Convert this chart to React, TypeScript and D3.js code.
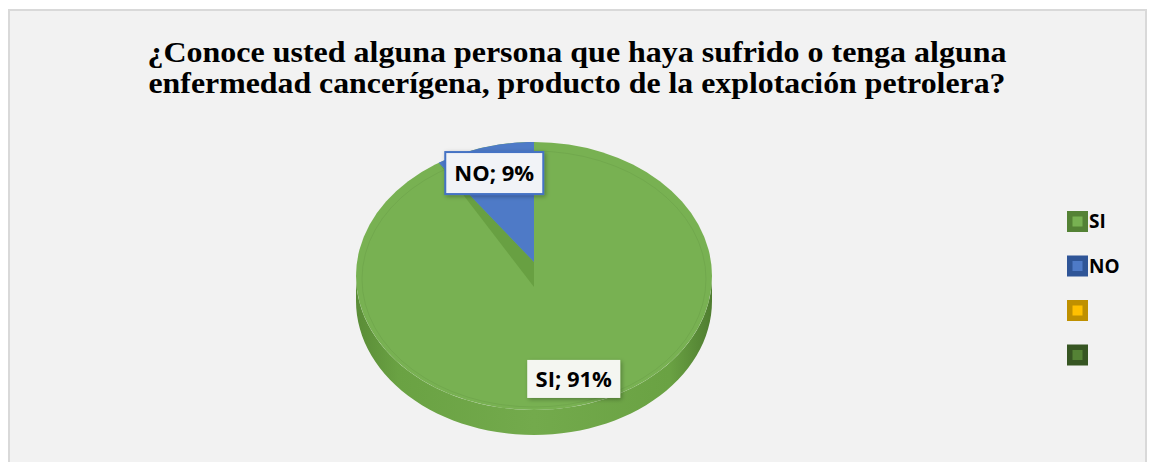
import React from 'react';
import * as d3 from 'd3';

const categories = ['SI', 'NO'];
const values = [91, 9];
const legendLabels = ['SI', 'NO', '', ''];
const legendColors = [
  { outer: '#548235', inner: '#78b152' },
  { outer: '#2f5597', inner: '#4e7ac7' },
  { outer: '#bf9000', inner: '#ffc000' },
  { outer: '#375623', inner: '#548235' },
];
const titleLines = [
  '¿Conoce usted alguna persona que haya sufrido o tenga alguna',
  'enfermedad cancerígena, producto de la explotación petrolera?',
];

const W = 1149;
const H = 462;

export default function App() {
  const cx = 534;
  const cy = 276;
  const rx = 178;
  const ry = 134;
  const depth = 25;
  const lift = 14; // NO slice top-face apex is raised
  const drop = 11; // visible wall of SI slice

  const pie = d3.pie<number>().sort(null).startAngle(0).endAngle(2 * Math.PI);
  const arcs = pie(values);

  const pt = (a: number, dy = 0): [number, number] => [cx + rx * Math.sin(a), cy - ry * Math.cos(a) + dy];

  // side wall of front half
  const side = d3.path();
  const n = 60;
  for (let i = 0; i <= n; i++) {
    const a = Math.PI / 2 + (Math.PI * i) / n;
    const [x, y] = pt(a);
    if (i === 0) side.moveTo(x, y);
    else side.lineTo(x, y);
  }
  for (let i = n; i >= 0; i--) {
    const a = Math.PI / 2 + (Math.PI * i) / n;
    const [x, y] = pt(a, depth);
    side.lineTo(x, y);
  }
  side.closePath();

  const wedgePath = (a0: number, a1: number, apexDy: number) => {
    const p = d3.path();
    p.moveTo(cx, cy + apexDy);
    const steps = 30;
    for (let i = 0; i <= steps; i++) {
      const a = a0 + ((a1 - a0) * i) / steps;
      const [x, y] = pt(a);
      p.lineTo(x, y);
    }
    p.closePath();
    return p.toString();
  };

  const no = arcs[1];
  const noStart = pt(no.startAngle);

  const labelPos = (d: d3.PieArcDatum<number>) => {
    const mid = (d.startAngle + d.endAngle) / 2;
    return [cx + rx * 0.8 * Math.sin(mid), cy - ry * 0.8 * Math.cos(mid)];
  };
  const labelSizes = [
    { w: 93, h: 38 },
    { w: 98, h: 42 },
  ];

  return (
    <div style={{ position: 'absolute', left: 0, top: 0 }}>
      <svg width={W} height={H} style={{ display: 'block' }}>
        <defs>
          <linearGradient id="sideGrad" x1="0" x2="1" y1="0" y2="0">
            <stop offset="0" stopColor="#5a8c37" />
            <stop offset="0.12" stopColor="#6aa243" />
            <stop offset="0.5" stopColor="#73aa4c" />
            <stop offset="0.88" stopColor="#6aa243" />
            <stop offset="1" stopColor="#4f7d30" />
          </linearGradient>
          <filter id="shadow" x="-20%" y="-30%" width="150%" height="170%">
            <feDropShadow dx="1.5" dy="1.5" stdDeviation="2" floodColor="#000" floodOpacity="0.3" />
          </filter>
        </defs>
        <rect x={0} y={0} width={W} height={H} fill="#ffffff" />
        <rect x={9} y={10} width={1137} height={470} fill="#f2f2f2" stroke="#d9d9d9" strokeWidth={2} />

        {titleLines.map((t, i) => (
          <text
            key={i}
            x={577}
            y={62 + i * 31}
            fontFamily="'Liberation Serif', 'Times New Roman', serif"
            fontWeight="bold"
            fontSize={29}
            textAnchor="middle"
            textLength={i === 0 ? 859 : 857}
            lengthAdjust="spacingAndGlyphs"
            fill="#000"
          >
            {t}
          </text>
        ))}

        {/* pie */}
        <path d={side.toString()} fill="url(#sideGrad)" />
        <ellipse cx={cx} cy={cy} rx={rx} ry={ry} fill="#78b152" />
        <ellipse cx={cx} cy={cy + 3} rx={rx - 6} ry={ry - 6} fill="none" stroke="#6a9f47" strokeWidth={0.8} opacity={0.6} />
        <path
          d={`M${cx},${cy + drop}L${noStart[0]},${noStart[1]}L${cx},${cy - lift}Z`}
          fill="#68a042"
        />
        <path d={wedgePath(no.startAngle, no.endAngle, -lift)} fill="#4e7ac7" />

        {/* data labels */}
        {arcs.map((d, i) => {
          const [lx, ly] = labelPos(d);
          const s = labelSizes[i];
          const isNo = categories[i] === 'NO';
          return (
            <g key={i}>
              <rect
                x={lx - s.w / 2}
                y={ly - s.h / 2}
                width={s.w}
                height={s.h}
                fill={isNo ? '#f1f3f7' : '#f4f6f1'}
                stroke={isNo ? '#4472c4' : 'none'}
                strokeWidth={2}
                filter="url(#shadow)"
              />
              <text
                x={lx}
                y={ly}
                dy="0.36em"
                textAnchor="middle"
                fontFamily="'Open Sans', sans-serif"
                fontWeight="bold"
                fontSize={22}
                fill="#000"
              >
                {`${categories[i]}; ${values[i]}%`}
              </text>
            </g>
          );
        })}

        {/* legend */}
        {legendLabels.map((l, i) => {
          const y = 211 + i * 44.5;
          return (
            <g key={i}>
              <rect x={1067} y={y} width={21} height={21} fill={legendColors[i].outer} />
              <rect x={1072.5} y={y + 5.5} width={10} height={10} fill={legendColors[i].inner} />
              <text
                x={1089}
                y={y + 10.5}
                dy="0.36em"
                fontFamily="'Open Sans', sans-serif"
                fontWeight="bold"
                fontSize={19}
                fill="#000"
              >
                {l}
              </text>
            </g>
          );
        })}
      </svg>
    </div>
  );
}
